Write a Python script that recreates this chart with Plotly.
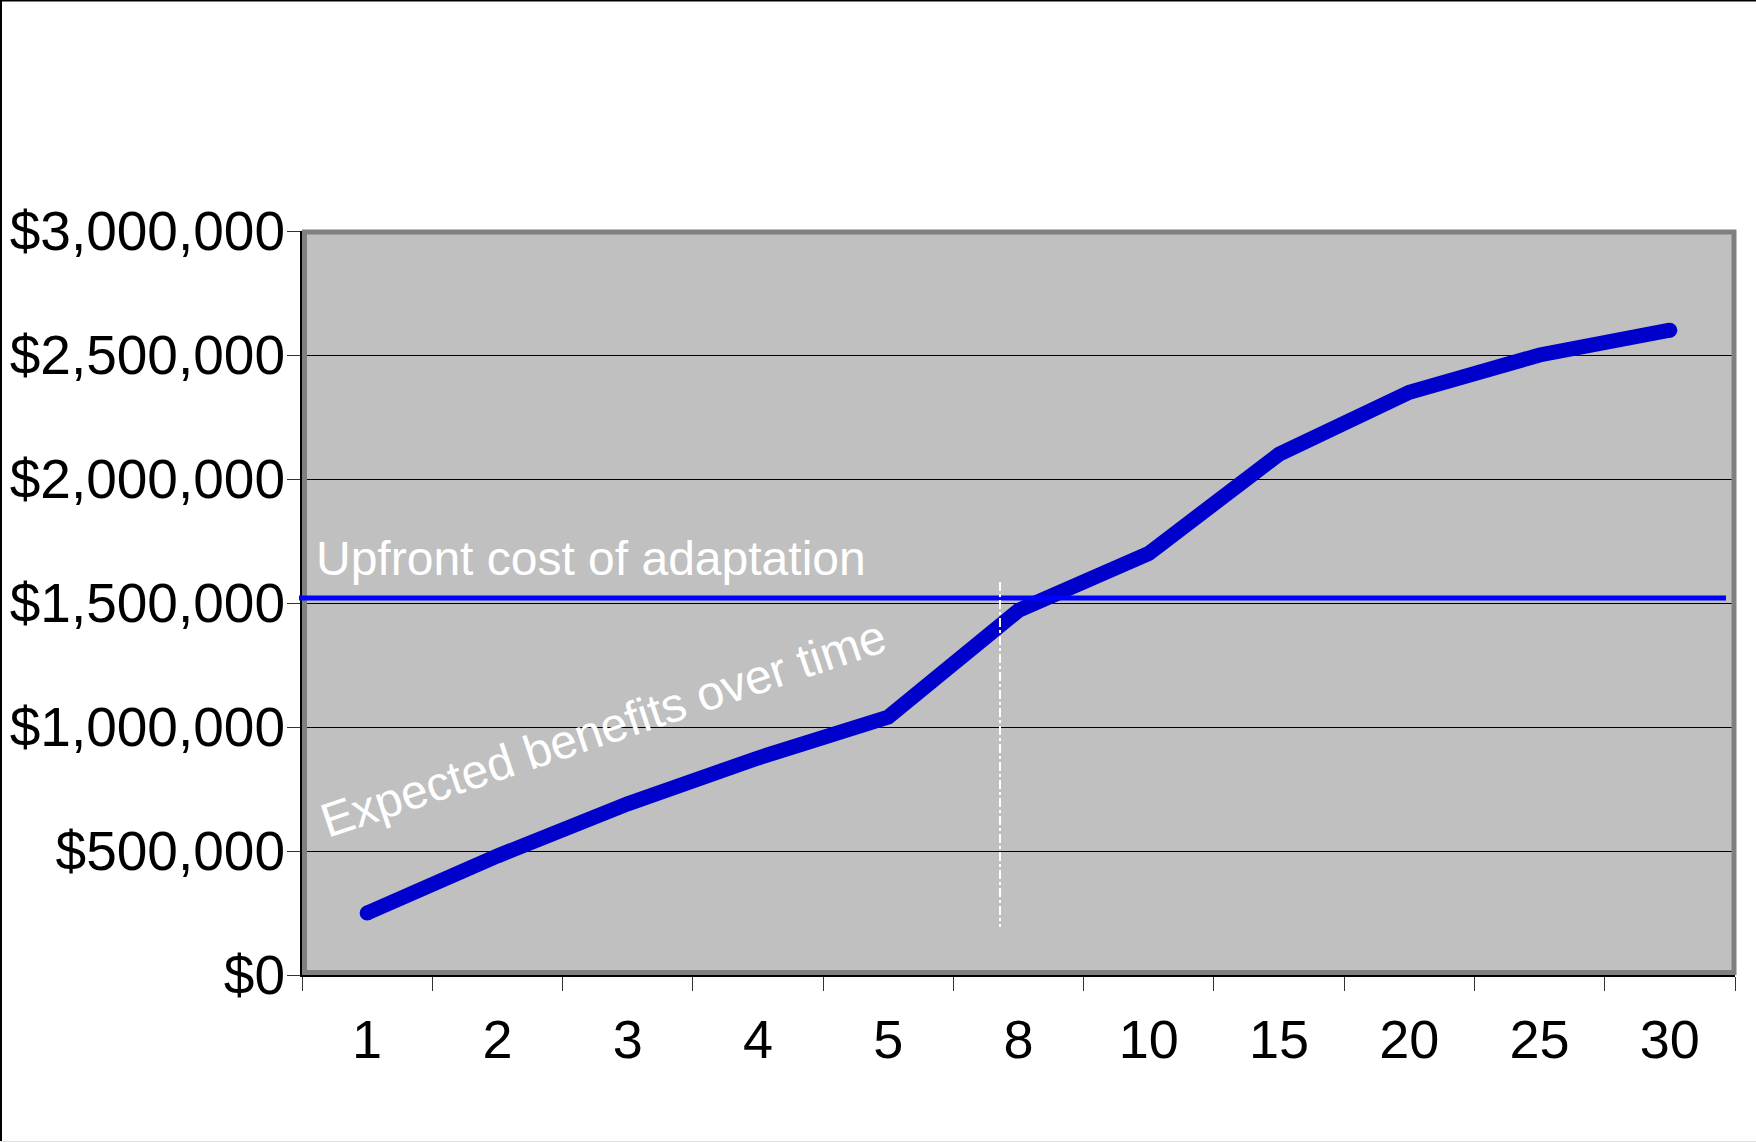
import plotly.graph_objects as go

# ---- data ----
years = ["1", "2", "3", "4", "5", "8", "10", "15", "20", "25", "30"]
benefits = [250000, 480000, 690000, 875000, 1040000, 1470000, 1700000, 2100000, 2350000, 2500000, 2600000]
upfront_cost = 1520000
y_ticks = [0, 500000, 1000000, 1500000, 2000000, 2500000, 3000000]
y_tick_text = ["${:,}".format(v) for v in y_ticks]
label_upfront = "Upfront cost of adaptation"
label_benefits = "Expected benefits over time"

# ---- layout geometry ----
W, H = 1756, 1142
L, R, T, B = 302, 21, 231, 167
PW, PH = W - L - R, H - T - B

def px(p):
    return (p - L) / PW

def py(p):
    return (H - B - p) / PH

FONT = "Arial, 'Liberation Sans', sans-serif"

fig = go.Figure()
fig.add_trace(go.Scatter(
    x=years, y=benefits, mode="lines",
    line=dict(color="#0000CC", width=15),
    hoverinfo="skip",
))
fig.add_trace(go.Scatter(
    x=[years[0], years[-1]], y=[benefits[0], benefits[-1]], mode="markers",
    marker=dict(color="#0000CC", size=15, line=dict(width=0)),
    hoverinfo="skip",
))

shapes = [
    # plot-area grey frame
    dict(type="rect", xref="paper", yref="paper", x0=px(L + 2.5), x1=px(W - R - 1), y0=py(H - B - 2.5), y1=py(T + 1),
         line=dict(color="#808080", width=5), layer="above"),
    # upfront cost line
    dict(type="line", xref="paper", yref="y", x0=px(299), x1=px(1726), y0=upfront_cost, y1=upfront_cost,
         line=dict(color="#0000FF", width=5), layer="above"),
    # vertical dash-dot marker
    dict(type="line", xref="paper", yref="paper", x0=px(1000), x1=px(1000), y0=py(582), y1=py(927),
         line=dict(color="white", width=2, dash="dashdot"), layer="above"),
    # outer frame (left & top)
    dict(type="line", xref="paper", yref="paper", x0=px(1), x1=px(1), y0=py(0), y1=py(H),
         line=dict(color="black", width=2)),
    dict(type="line", xref="paper", yref="paper", x0=px(0), x1=px(W), y0=py(0.5), y1=py(0.5),
         line=dict(color="black", width=2)),
    dict(type="line", xref="paper", yref="paper", x0=px(0), x1=px(W), y0=py(H - 0.5), y1=py(H - 0.5),
         line=dict(color="#E0E0E0", width=1)),
]

annotations = [
    dict(text=label_upfront, xref="paper", yref="paper", x=px(314), y=py(558),
         xanchor="left", yanchor="middle", showarrow=False,
         font=dict(family=FONT, size=48, color="white")),
    dict(text=label_benefits, xref="paper", yref="paper", x=px(603), y=py(728),
         xanchor="center", yanchor="middle", showarrow=False, textangle=-18.5,
         font=dict(family=FONT, size=48, color="white")),
]

fig.update_layout(
    width=W, height=H,
    margin=dict(l=L, r=R, t=T, b=B, pad=0, autoexpand=False),
    paper_bgcolor="white", plot_bgcolor="#C0C0C0",
    showlegend=False,
    shapes=shapes, annotations=annotations,
    font=dict(family=FONT, color="black"),
    xaxis=dict(
        type="category", categoryorder="array", categoryarray=years,
        range=[-0.5, len(years) - 0.5], automargin=False,
        tickson="boundaries", ticks="outside", ticklen=14, tickwidth=1, tickcolor="#333",
        showline=True, linecolor="black", linewidth=2,
        showgrid=False, zeroline=False,
        tickfont=dict(family=FONT, size=54, color="black"),
        ticklabelstandoff=16,
    ),
    yaxis=dict(
        range=[0, 3000000], tickmode="array", tickvals=y_ticks, ticktext=y_tick_text,
        automargin=False,
        ticks="outside", ticklen=13, tickwidth=1, tickcolor="#333",
        showline=True, linecolor="black", linewidth=2,
        showgrid=True, gridcolor="black", gridwidth=1, zeroline=False,
        tickfont=dict(family=FONT, size=55, color="black"),
        ticklabelstandoff=-9,
    ),
)

fig.write_html("out.html")
